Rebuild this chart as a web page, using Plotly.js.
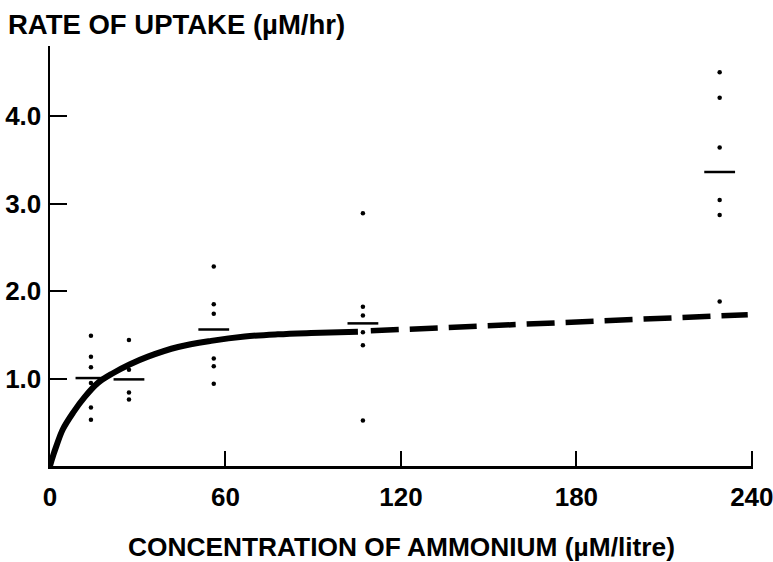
<!DOCTYPE html>
<html>
<head>
<meta charset="utf-8">
<script src="https://cdn.plot.ly/plotly-3.0.1.min.js"></script>
<style>html,body{margin:0;padding:0;background:#fff;}#chart{width:773px;height:562px;}</style>
</head>
<body>
<div id="chart"></div>
<script>
// Individual measurements (concentration µM/litre, uptake µM/hr)
const obsX = [14,14,14,14,14,14, 27,27,27,27, 56,56,56,56,56,56, 107,107,107,107,107,107, 229,229,229,229,229,229];
const obsY = [1.49,1.25,1.13,0.95,0.67,0.53, 1.44,1.10,0.84,0.76, 2.28,1.85,1.74,1.23,1.14,0.94, 2.89,1.82,1.72,1.53,1.38,0.52, 4.50,4.21,3.64,3.04,2.87,1.88];
// Group means
const meanX = [14, 27, 56, 107, 229];
const meanY = [1.005, 0.99, 1.56, 1.63, 3.36];
// Fitted curve (solid part)
const curveX = [0, 0.5, 2.2, 4.4, 7.9, 11.9, 16.4, 21.5, 27.2, 33.5, 43.8, 55.1, 66.6, 77.9, 89.3, 105.3];
const curveY = [0, 0.06, 0.23, 0.42, 0.61, 0.79, 0.95, 1.06, 1.16, 1.25, 1.36, 1.43, 1.48, 1.505, 1.52, 1.535];
// Extrapolated part (dashed)
const extX = [109.7, 238.6];
const extY = [1.545, 1.73];
// Axis ticks
const xTicks = [0, 60, 120, 180, 240];
const xTickText = ['0', '60', '120', '180', '240'];
const yTicks = [1, 2, 3, 4];
const yTickText = ['1.0', '2.0', '3.0', '4.0'];

const FONT = '"Liberation Sans", Arial, Helvetica, sans-serif';

const traces = [
  {x: curveX, y: curveY, mode: 'lines', line: {color: '#000', width: 6, shape: 'spline', smoothing: 1}, hoverinfo: 'skip'},
  {x: extX, y: extY, mode: 'lines', line: {color: '#000', width: 5.5, dash: '28px,11px'}, hoverinfo: 'skip'},
  {x: obsX, y: obsY, mode: 'markers', marker: {color: '#000', size: 4.5, symbol: 'circle'}},
  {x: meanX, y: meanY, mode: 'markers', marker: {symbol: 'line-ew', size: 22, color: '#000', line: {color: '#000', width: 2.5}}}
];

const layout = {
  width: 773, height: 562,
  paper_bgcolor: '#fff', plot_bgcolor: '#fff',
  showlegend: false,
  font: {family: FONT, color: '#000', size: 26, weight: 700},
  margin: {l: 50, r: 20, t: 46, b: 96, pad: 0},
  title: {
    text: 'RATE OF UPTAKE (µM/hr)',
    xref: 'container', x: 8/773, xanchor: 'left',
    yref: 'container', y: 1 - 24/562, yanchor: 'middle',
    font: {family: FONT, size: 27.5, weight: 700, color: '#000'}
  },
  xaxis: {
    range: [0, 240.4], tickvals: xTicks, ticktext: xTickText,
    showline: true, linecolor: '#000', linewidth: 3,
    ticks: 'inside', ticklen: 15, tickwidth: 2, tickcolor: '#000',
    showgrid: false, zeroline: false,
    ticklabeloverflow: 'allow',
    tickfont: {family: FONT, size: 26, weight: 700, color: '#000'},
    ticklabelstandoff: 6,
    title: {text: 'CONCENTRATION OF AMMONIUM (µM/litre)', standoff: 27,
            font: {family: FONT, size: 26.3, weight: 700, color: '#000'}}
  },
  yaxis: {
    range: [0, 4.8], tickvals: yTicks, ticktext: yTickText,
    showline: true, linecolor: '#000', linewidth: 2.5,
    ticks: 'inside', ticklen: 17, tickwidth: 2, tickcolor: '#000',
    showgrid: false, zeroline: false,
    ticklabeloverflow: 'allow',
    tickfont: {family: FONT, size: 26, weight: 700, color: '#000'},
    ticklabelstandoff: 1
  }
};

Plotly.newPlot('chart', traces, layout, {staticPlot: true, displayModeBar: false});
</script>
</body>
</html>
